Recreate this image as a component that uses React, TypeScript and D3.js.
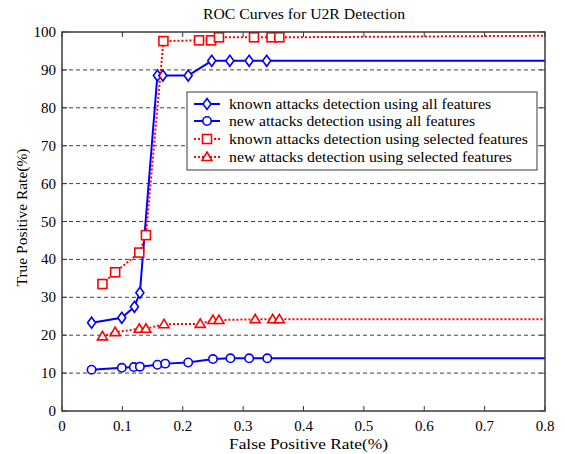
import React from "react";
import * as d3 from "d3";

const knownAllX = [0.049, 0.099, 0.12, 0.129, 0.158, 0.167, 0.209, 0.248, 0.278, 0.31, 0.339];
const knownAllY = [23.3, 24.6, 27.5, 31.2, 88.5, 88.5, 88.5, 92.4, 92.4, 92.4, 92.4];
const newAllX = [0.049, 0.099, 0.119, 0.129, 0.158, 0.171, 0.209, 0.25, 0.279, 0.31, 0.34];
const newAllY = [10.9, 11.4, 11.6, 11.7, 12.2, 12.5, 12.8, 13.7, 13.9, 13.9, 13.9];
const knownSelX = [0.067, 0.088, 0.128, 0.139, 0.168, 0.227, 0.247, 0.26, 0.318, 0.347, 0.36];
const knownSelY = [33.5, 36.6, 41.8, 46.4, 97.6, 97.8, 97.8, 98.6, 98.6, 98.6, 98.6];
const newSelX = [0.067, 0.088, 0.128, 0.139, 0.169, 0.229, 0.25, 0.26, 0.32, 0.349, 0.36];
const newSelY = [19.7, 20.8, 21.7, 21.7, 22.9, 23.0, 24.0, 24.0, 24.2, 24.2, 24.2];
const tailX = 0.8;
const tailY = { knownAll: 92.4, newAll: 13.9, knownSel: 99.0, newSel: 24.2 };

const xTicks = [0, 0.1, 0.2, 0.3, 0.4, 0.5, 0.6, 0.7, 0.8];
const yTicks = [0, 10, 20, 30, 40, 50, 60, 70, 80, 90, 100];
const legendLabels = [
  "known attacks detection using all features",
  "new attacks detection using all features",
  "known attacks detection using selected features",
  "new attacks detection using selected features",
];
const legendWidths = [262, 246, 299, 283];

const W = 565, H = 454;
const L = 62, R = 545, T = 32, B = 411;
const BLUE = "#0000ff";
const RED = "#ff0000";
const AXIS = "#3a3a3a";
const FONT = "'Liberation Serif', 'Times New Roman', Times, serif";
const txt = { fontFamily: FONT, fill: "#000" };

type Marker = "diamond" | "circle" | "square" | "triangle";

function MarkerShape({ kind, x, y, color }: { kind: Marker; x: number; y: number; color: string }) {
  const sw = 1.6;
  if (kind === "diamond")
    return <path d={`M${x},${y - 5.5}L${x + 4},${y}L${x},${y + 5.5}L${x - 4},${y}Z`} fill="white" stroke={color} strokeWidth={sw} />;
  if (kind === "circle")
    return <circle cx={x} cy={y} r={4.2} fill="white" stroke={color} strokeWidth={sw} />;
  if (kind === "square")
    return <rect x={x - 4.5} y={y - 4.5} width={9} height={9} fill="white" stroke={color} strokeWidth={sw} />;
  return <path d={`M${x},${y - 5}L${x + 5},${y + 3.5}L${x - 5},${y + 3.5}Z`} fill="white" stroke={color} strokeWidth={sw} />;
}

export default function App() {
  const x = d3.scaleLinear().domain([0, 0.8]).range([L, R]);
  const y = d3.scaleLinear().domain([0, 100]).range([B, T]);
  const line = d3.line<[number, number]>().x((d) => x(d[0])).y((d) => y(d[1]));

  const series = [
    { xs: knownAllX, ys: knownAllY, tail: tailY.knownAll, color: BLUE, dash: undefined, marker: "diamond" as Marker },
    { xs: newAllX, ys: newAllY, tail: tailY.newAll, color: BLUE, dash: undefined, marker: "circle" as Marker },
    { xs: knownSelX, ys: knownSelY, tail: tailY.knownSel, color: RED, dash: "2,2", marker: "square" as Marker },
    { xs: newSelX, ys: newSelY, tail: tailY.newSel, color: RED, dash: "2,2", marker: "triangle" as Marker },
  ];

  const legX = 187, legY = 92, legW = 350, legH = 78;
  const rowY = [104, 121, 139, 157];

  return (
    <svg width={W} height={H} style={{ position: "absolute", left: 0, top: 0, background: "white" }}>
      <rect x={0} y={0} width={W} height={H} fill="white" />
      {yTicks.filter((t) => t > 0 && t < 100).map((t) => (
        <line key={t} x1={L} x2={R} y1={y(t)} y2={y(t)} stroke="#404040" strokeWidth={1} strokeDasharray="4,3" />
      ))}
      {xTicks.map((t) => (
        <g key={t}>
          <line x1={x(t)} x2={x(t)} y1={B} y2={B - 5} stroke={AXIS} />
          <line x1={x(t)} x2={x(t)} y1={T} y2={T + 5} stroke={AXIS} />
          <text x={x(t)} y={B + 20} fontSize={15} textAnchor="middle" style={txt}>{String(t)}</text>
        </g>
      ))}
      {yTicks.map((t) => (
        <g key={t}>
          <line x1={L} x2={L + 5} y1={y(t)} y2={y(t)} stroke={AXIS} />
          <line x1={R} x2={R - 5} y1={y(t)} y2={y(t)} stroke={AXIS} />
          <text x={L - 6} y={y(t) + 5} fontSize={15} textAnchor="end" style={txt}>{String(t)}</text>
        </g>
      ))}
      {series.map((s, i) => {
        const pts: [number, number][] = s.xs.map((v, j) => [v, s.ys[j]]);
        const all: [number, number][] = [...pts, [tailX, s.tail]];
        return (
          <g key={i}>
            <path d={line(all) || ""} fill="none" stroke={s.color} strokeWidth={2} strokeDasharray={s.dash} />
            {pts.map((p, j) => (
              <MarkerShape key={j} kind={s.marker} x={x(p[0])} y={y(p[1])} color={s.color} />
            ))}
          </g>
        );
      })}
      <rect x={L} y={T} width={R - L} height={B - T} fill="none" stroke={AXIS} strokeWidth={1.5} />
      <rect x={legX} y={legY} width={legW} height={legH} fill="white" stroke={AXIS} strokeWidth={1} />
      {series.map((s, i) => (
        <g key={i}>
          <line x1={194} x2={220} y1={rowY[i]} y2={rowY[i]} stroke={s.color} strokeWidth={2} strokeDasharray={s.dash} />
          <MarkerShape kind={s.marker} x={207} y={rowY[i]} color={s.color} />
          <text x={229} y={rowY[i] + 5} fontSize={15.5} style={txt} textLength={legendWidths[i]} lengthAdjust="spacingAndGlyphs">{legendLabels[i]}</text>
        </g>
      ))}
      <text x={304} y={18.5} fontSize={15.5} textAnchor="middle" style={txt} textLength={202} lengthAdjust="spacingAndGlyphs">ROC Curves for U2R Detection</text>
      <text x={308.5} y={449} fontSize={15.5} textAnchor="middle" style={txt} textLength={159} lengthAdjust="spacingAndGlyphs">False Positive Rate(%)</text>
      <text transform={`translate(27,${(T + B) / 2 - 4}) rotate(-90)`} fontSize={15.5} textAnchor="middle" style={txt}>True Positive Rate(%)</text>
    </svg>
  );
}
